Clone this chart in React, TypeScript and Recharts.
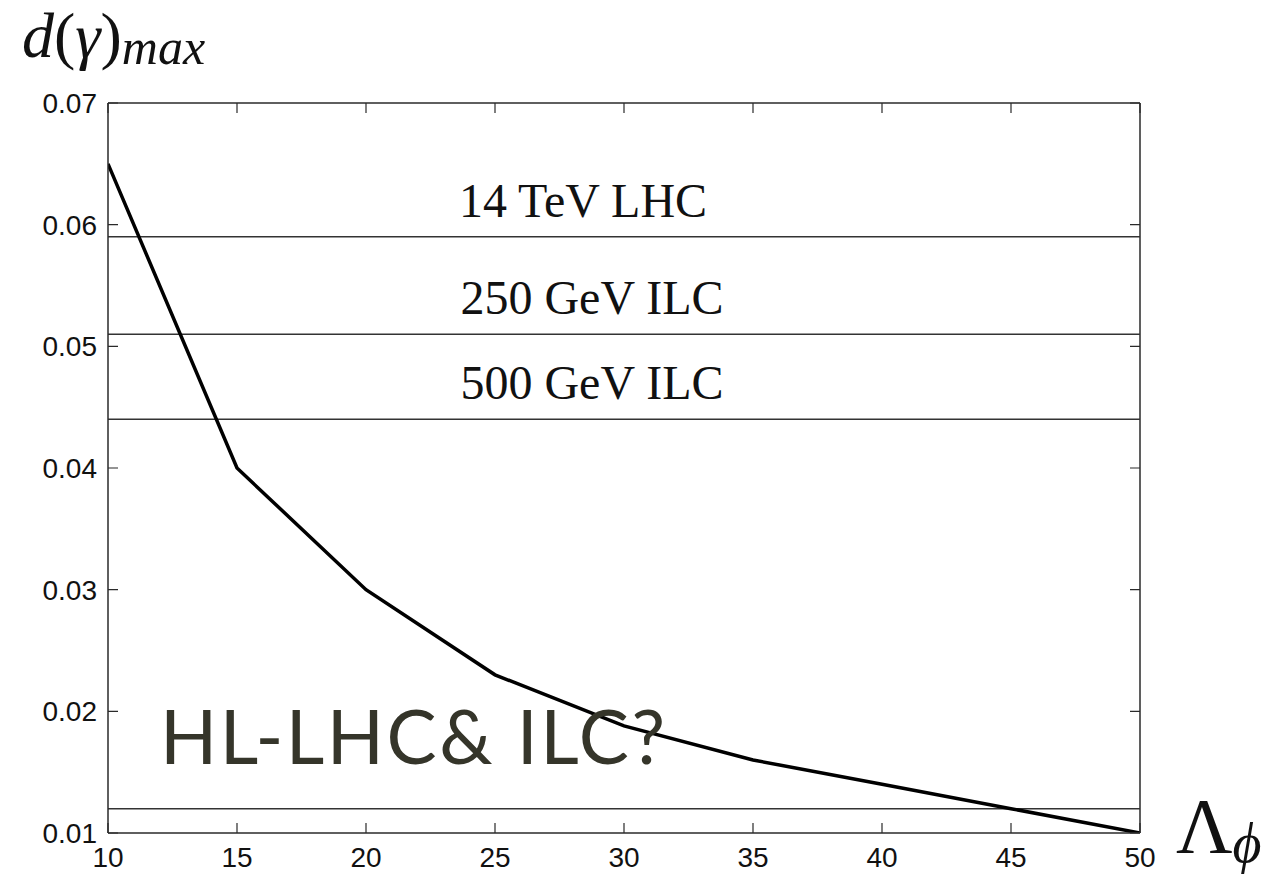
import React from "react";
import {
  LineChart,
  Line,
  XAxis,
  YAxis,
  ReferenceLine,
} from "recharts";

// Λφ scan and the maximal d(γ) reached at each point
const lambdaPhi = [10, 15, 20, 25, 30, 35, 40, 45, 50];
const dGammaMax = [0.065, 0.04, 0.03, 0.023, 0.0188, 0.016, 0.014, 0.012, 0.01];

const xTicks = [10, 15, 20, 25, 30, 35, 40, 45, 50];
const yTicks = [0.01, 0.02, 0.03, 0.04, 0.05, 0.06, 0.07];

// projected sensitivities
const reachValues = [0.059, 0.051, 0.044, 0.012];
const reachLabels = ["14 TeV LHC", "250 GeV ILC", "500 GeV ILC", ""];

const W = 1287;
const H = 874;
const MARGIN = { top: 103, right: 147, bottom: 1, left: 0 };
const X_AXIS_H = 40;
const Y_AXIS_W = 108;
// frame edges, from the layout above
const PLOT_LEFT = MARGIN.left + Y_AXIS_W;
const PLOT_RIGHT = W - MARGIN.right;
const PLOT_TOP = MARGIN.top;
const PLOT_BOTTOM = H - MARGIN.bottom - X_AXIS_H;

const AXIS = "#2a2a2a";
const TICK_LEN = 10;
const SERIF = "'Liberation Serif', 'DejaVu Serif', serif";
const SANS = "'Liberation Sans', Arial, Helvetica, sans-serif";

const data = lambdaPhi.map((x, i) => ({ x, y: dGammaMax[i] }));

const ReachLabel = (props: any) => {
  const { viewBox, value, shift } = props;
  if (!value || !viewBox) return null;
  return (
    <text
      x={viewBox.x + viewBox.width / 2 + shift}
      y={viewBox.y - 20}
      textAnchor="middle"
      fontFamily={SERIF}
      fontSize={48}
      fill="#111"
    >
      {value}
    </text>
  );
};

const labelShift = [-41, -32, -32, 0];

// inward ticks on all four sides of the frame
const bottomTick = (props: any) => {
  const { x, payload } = props;
  return (
    <g key={`b${payload.value}`}>
      <path
        d={`M${x},${PLOT_BOTTOM}V${PLOT_BOTTOM - TICK_LEN}M${x},${PLOT_TOP}V${PLOT_TOP + TICK_LEN}`}
        stroke={AXIS}
        strokeWidth={1.2}
      />
      <text
        x={x}
        y={PLOT_BOTTOM + 14}
        dy="0.71em"
        textAnchor="middle"
        fill="#111"
        fontSize={28}
        fontFamily={SANS}
      >
        {payload.value}
      </text>
    </g>
  );
};

const leftTick = (props: any) => {
  const { y, payload } = props;
  return (
    <g key={`l${payload.value}`}>
      <path
        d={`M${PLOT_LEFT},${y}H${PLOT_LEFT + TICK_LEN}M${PLOT_RIGHT},${y}H${PLOT_RIGHT - TICK_LEN}`}
        stroke={AXIS}
        strokeWidth={1.2}
      />
      <text
        x={PLOT_LEFT - 11}
        y={y}
        dy="0.36em"
        textAnchor="end"
        fill="#111"
        fontSize={28}
        fontFamily={SANS}
      >
        {payload.value.toFixed(2)}
      </text>
    </g>
  );
};

export default function App() {
  return (
    <div
      style={{
        position: "absolute",
        left: 0,
        top: 0,
        width: W,
        height: H,
        background: "#fff",
      }}
    >
      <LineChart width={W} height={H} data={data} margin={MARGIN}>
        <XAxis
          dataKey="x"
          type="number"
          domain={[10, 50]}
          ticks={xTicks}
          allowDataOverflow
          height={X_AXIS_H}
          tickLine={false}
          axisLine={{ stroke: AXIS, strokeWidth: 1.5 }}
          tick={bottomTick}
        />
        <YAxis
          type="number"
          domain={[0.01, 0.07]}
          ticks={yTicks}
          allowDataOverflow
          width={Y_AXIS_W}
          tickLine={false}
          axisLine={{ stroke: AXIS, strokeWidth: 1.5 }}
          tick={leftTick}
        />
        {/* top and right edges of the box */}
        <ReferenceLine y={0.07} stroke={AXIS} strokeWidth={1.5} />
        <ReferenceLine x={50} stroke={AXIS} strokeWidth={1.5} />
        {reachValues.map((v, i) => (
          <ReferenceLine
            key={v}
            y={v}
            stroke="#333"
            strokeWidth={1.5}
            label={<ReachLabel value={reachLabels[i]} shift={labelShift[i]} />}
          />
        ))}
        <Line
          dataKey="y"
          type="linear"
          stroke="#000"
          strokeWidth={3.5}
          dot={false}
          isAnimationActive={false}
        />
      </LineChart>
      <svg
        width={W}
        height={H}
        style={{ position: "absolute", left: 0, top: 0, pointerEvents: "none" }}
      >
        <text x={22} y={57} fontFamily={SERIF} fill="#111">
          <tspan fontStyle="italic" fontSize={64}>d</tspan>
          <tspan fontSize={64}>(</tspan>
          <tspan fontStyle="italic" fontSize={64}>γ</tspan>
          <tspan fontSize={64}>)</tspan>
          <tspan fontStyle="italic" fontSize={50} dy={7}>max</tspan>
        </text>
        <text x={1176} y={852} fontFamily={SERIF} fill="#111">
          <tspan fontSize={78}>Λ</tspan>
          <tspan fontStyle="italic" fontSize={56} dy={10}>ϕ</tspan>
        </text>
        <text
          x={160}
          y={764}
          fontFamily="Lato, 'Open Sans', sans-serif"
          fontWeight={400}
          fontSize={75}
          letterSpacing={2.5}
          fill="#35352a"
        >
          HL-LHC&amp; ILC?
        </text>
      </svg>
    </div>
  );
}
